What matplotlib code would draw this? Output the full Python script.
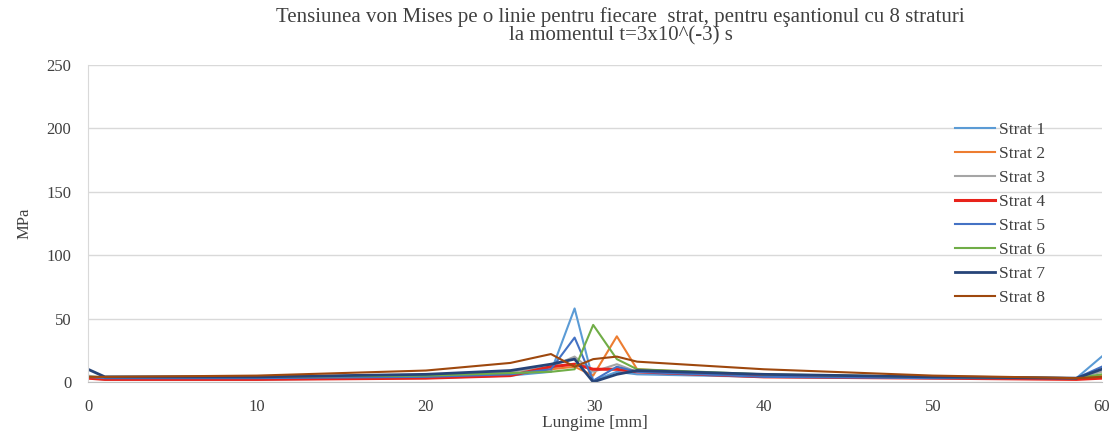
# === IMPORTS ===
import matplotlib
matplotlib.use("Agg")
import matplotlib.pyplot as plt

# === DATOS ===
x_mm = [0, 1, 10, 20, 25, 27.4, 28.8, 29.9, 31.3, 32.5, 40, 50, 58.5, 60]

strat_1 = [3, 2, 2, 3, 5, 8, 58, 1, 8, 6, 4, 3, 3, 20]
strat_2 = [4, 3, 3, 4, 6, 10, 12, 5, 36, 10, 5, 4, 3, 5]
strat_3 = [5, 3, 3, 5, 8, 12, 20, 8, 14, 8, 5, 4, 3, 8]
strat_4 = [3, 2, 2, 3, 5, 12, 14, 10, 10, 8, 4, 3, 2, 3]
strat_5 = [4, 3, 3, 4, 6, 10, 35, 1, 12, 8, 4, 3, 3, 12]
strat_6 = [4, 4, 4, 5, 7, 8, 10, 45, 18, 10, 6, 4, 3, 6]
strat_7 = [10, 4, 4, 6, 9, 14, 18, 0, 6, 9, 6, 4, 3, 10]
strat_8 = [4, 4, 5, 9, 15, 22, 12, 18, 20, 16, 10, 5, 3, 4]

series = [strat_1, strat_2, strat_3, strat_4, strat_5, strat_6, strat_7, strat_8]
labels = ["Strat 1", "Strat 2", "Strat 3", "Strat 4",
          "Strat 5", "Strat 6", "Strat 7", "Strat 8"]

titlu = ("Tensiunea von Mises pe o linie pentru fiecare  strat, pentru eşantionul cu 8 straturi\n"
         "la momentul t=3x10^(-3) s")

# === ESTILO ===
culori = ["#5B9BD5", "#ED7D31", "#A5A5A5", "#E8231B",
          "#4472C4", "#70AD47", "#264478", "#9E480E"]
grosimi = [1.5, 1.5, 1.5, 2.2, 1.5, 1.5, 2.0, 1.5]
plt.rcParams['font.family'] = ['Liberation Serif', 'DejaVu Serif']

# === FIGURA ===
fig = plt.figure(figsize=(11.14, 4.37), dpi=100)
ax = fig.add_axes([0.079, 0.126, 0.910, 0.725])

for vals, lab, c, lw in zip(series, labels, culori, grosimi):
    ax.plot(x_mm, vals, color=c, lw=lw, label=lab)

ax.set_xlim(0, 60)
ax.set_ylim(0, 250)
ax.set_xticks(range(0, 61, 10))
ax.set_yticks(range(0, 251, 50))
ax.yaxis.grid(True, color="#D9D9D9", lw=1)
ax.set_axisbelow(True)
for s in ["top", "right"]:
    ax.spines[s].set_visible(False)
ax.spines["left"].set_color("#D9D9D9")
ax.spines["bottom"].set_color("#BFBFBF")
ax.tick_params(axis="y", length=0, labelsize=12, colors="#404040", pad=12)
ax.tick_params(axis="x", length=0, labelsize=12, colors="#404040", pad=12)

ax.set_xlabel("Lungime [mm]", fontsize=12.5, color="#404040", labelpad=0)
ax.set_ylabel("MPa", fontsize=12, color="#404040", labelpad=10)
fig.text(0.557, 0.94, titlu, ha="center", va="center", fontsize=15,
         color="#404040", linespacing=0.95)

ax.legend(loc="upper left", bbox_to_anchor=(0.84, 0.87), frameon=False,
          fontsize=12.5, handlelength=2.3, labelspacing=0.45,
          labelcolor="#404040", handletextpad=0.2)

# === RENDER ===
fig.savefig("out.png", dpi=100)
